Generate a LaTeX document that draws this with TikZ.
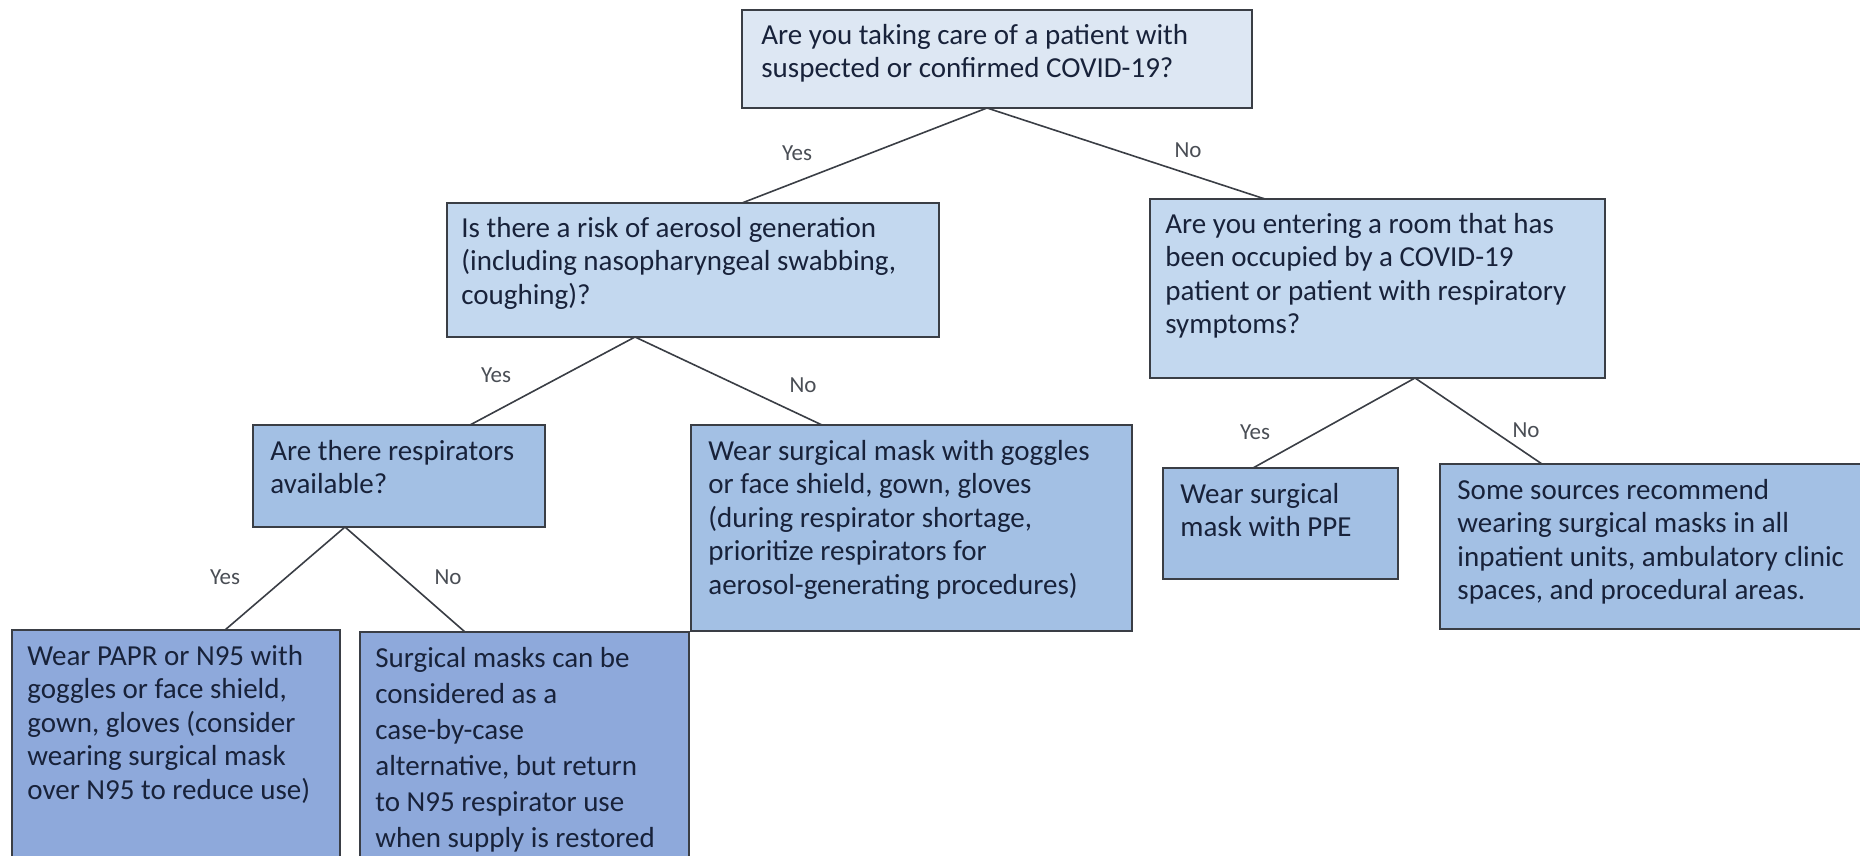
\documentclass[tikz,border=0pt]{standalone}
\usepackage{fontspec}
\setmainfont{Carlito}
\definecolor{c1}{HTML}{DDE7F3}
\definecolor{c2}{HTML}{C3D8EF}
\definecolor{c3}{HTML}{A3C0E4}
\definecolor{c4}{HTML}{8EA9DB}
\definecolor{txt}{HTML}{18223A}
\definecolor{edge}{HTML}{3A3E45}
\definecolor{lblc}{HTML}{4A4E55}
\begin{document}
\begin{tikzpicture}[x=0.5pt,y=-0.5pt,
  box/.style={draw=edge,line width=1pt,anchor=north west,inner sep=0pt,outer sep=0pt},
  txtnode/.style={anchor=north west,inner sep=0pt,align=left,text=txt,font=\fontsize{14.5}{16.7}\selectfont},
  conn/.style={draw=edge,line width=0.8pt},
  lbl/.style={text=lblc,inner sep=0pt,font=\fontsize{11.5}{13}\selectfont}]
\useasboundingbox (0,0) rectangle (1860,856);
\clip (0,0) rectangle (1860,856);
% boxes
\node[box,fill=c1,minimum width=255pt,minimum height=49pt] (q1) at (742,10) {};
\node[box,fill=c2,minimum width=246pt,minimum height=67pt] (q2) at (447,203) {};
\node[box,fill=c2,minimum width=227.5pt,minimum height=89.5pt] (q3) at (1150,199) {};
\node[box,fill=c3,minimum width=146pt,minimum height=51pt] (q4) at (253,425) {};
\node[box,fill=c3,minimum width=220.5pt,minimum height=103pt] (q5) at (691,425) {};
\node[box,fill=c3,minimum width=117.5pt,minimum height=55.5pt] (q6) at (1163,468) {};
\node[box,fill=c3,minimum width=215pt,minimum height=82.5pt] (q7) at (1440,464) {};
\node[box,fill=c4,minimum width=164pt,minimum height=125pt] (q8) at (12,630) {};
\node[box,fill=c4,minimum width=164.5pt,minimum height=124pt] (q9) at (360,632) {};
% texts
\node[txtnode] (t1) at ([shift={(19,14)}]q1.north west) {Are you taking care of a patient with\\suspected or confirmed COVID-19?};
\node[txtnode] (t2) at ([shift={(14,14)}]q2.north west) {Is there a risk of aerosol generation\\(including nasopharyngeal swabbing,\\coughing)?};
\node[txtnode] (t3) at ([shift={(15,14)}]q3.north west) {Are you entering a room that has\\been occupied by a COVID-19\\patient or patient with respiratory\\symptoms?};
\node[txtnode] (t4) at ([shift={(17,15)}]q4.north west) {Are there respirators\\available?};
\node[txtnode] (t5) at ([shift={(17,15)}]q5.north west) {Wear surgical mask with goggles\\or face shield, gown, gloves\\(during respirator shortage,\\prioritize respirators for\\aerosol-generating procedures)};
\node[txtnode] (t6) at ([shift={(17,15)}]q6.north west) {Wear surgical\\mask with PPE};
\node[txtnode] (t7) at ([shift={(17,15)}]q7.north west) {Some sources recommend\\wearing surgical masks in all\\inpatient units, ambulatory clinic\\spaces, and procedural areas.};
\node[txtnode] (t8) at ([shift={(15,15)}]q8.north west) {Wear PAPR or N95 with\\goggles or face shield,\\gown, gloves (consider\\wearing surgical mask\\over N95 to reduce use)};
\node[txtnode,font=\fontsize{14.5}{18}\selectfont] (t9) at ([shift={(15,15)}]q9.north west) {Surgical masks can be\\considered as a\\case-by-case\\alternative, but return\\to N95 respirator use\\when supply is restored};
% connectors
\draw[conn] ([xshift=122.5pt]q1.south west) -- ([xshift=147.5pt]q2.north west);
\draw[conn] ([xshift=122.5pt]q1.south west) -- ([xshift=57.5pt]q3.north west);
\draw[conn] ([xshift=94pt]q2.south west) -- ([xshift=108.5pt]q4.north west);
\draw[conn] ([xshift=94pt]q2.south west) -- ([xshift=65.5pt]q5.north west);
\draw[conn] ([xshift=46pt]q4.south west) -- ([xshift=106.5pt]q8.north west);
\draw[conn] ([xshift=46pt]q4.south west) -- ([xshift=52.5pt]q9.north west);
\draw[conn] ([xshift=132.5pt]q3.south west) -- ([xshift=45pt]q6.north west);
\draw[conn] ([xshift=132.5pt]q3.south west) -- ([xshift=51pt]q7.north west);
% labels
\node[lbl] (l1) at (797,153) {Yes};
\node[lbl] (l2) at (1188,150) {No};
\node[lbl] (l3) at (496,375) {Yes};
\node[lbl] (l4) at (803,385) {No};
\node[lbl] (l5) at (225,577) {Yes};
\node[lbl] (l6) at (448,577) {No};
\node[lbl] (l7) at (1255,432) {Yes};
\node[lbl] (l8) at (1526,430) {No};
\end{tikzpicture}
\end{document}
